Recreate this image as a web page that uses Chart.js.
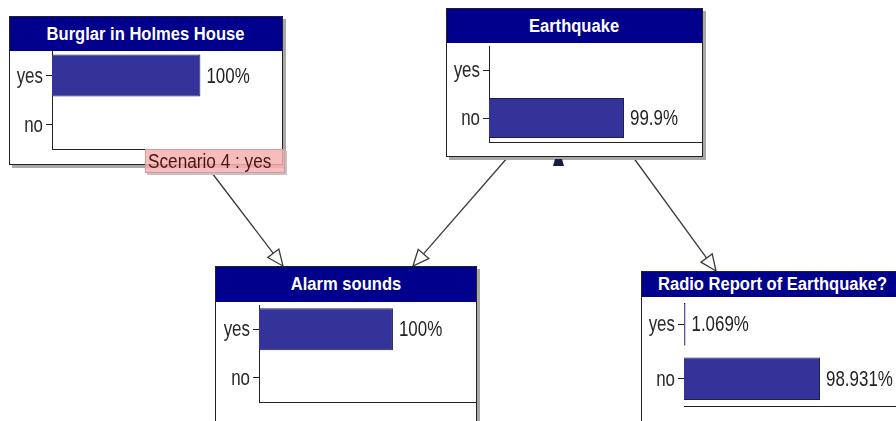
<!DOCTYPE html>
<html>
<head>
<meta charset="utf-8">
<script src="https://cdn.jsdelivr.net/npm/chart.js@4/dist/chart.umd.min.js"></script>
<style>
  html, body { margin: 0; padding: 0; background: #fff; }
  #stage { position: relative; width: 896px; height: 421px; overflow: hidden; }
  #links { position: absolute; left: 0; top: 0; }
  .node {
    position: absolute; box-sizing: border-box; background: #fff;
    border: 1px solid #222; box-shadow: 3px 3px 0 #a8a8a8;
  }
  .head {
    position: absolute; left: 0; right: 0; top: 0; background: #00008c; color: #fff;
    font: bold 18px "Liberation Sans", Arial, sans-serif;
    text-align: center; white-space: nowrap; overflow: visible;
  }
  .head span { display: inline-block; transform: scaleX(0.92); }
  .body { position: absolute; }
  #scenario {
    position: absolute; box-sizing: border-box; background: rgba(246, 178, 178, 0.85);
    border: 1px solid #d59a9a; box-shadow: 2px 2px 0 #c9c0c0; color: #4b1414;
    font: 20px "Liberation Sans", Arial, sans-serif;
    white-space: nowrap;
  }
  #scenario span { display: inline-block; transform: scaleX(0.86); transform-origin: 0 50%; margin-left: 2px; }
  #minimizer { position: absolute; width: 0; height: 0; }
</style>
</head>
<body>
<div id="stage">
  <svg id="links" width="896" height="421"></svg>
</div>
<script>
// node titles and beliefs (percent)
var titles = ["Burglar in Holmes House", "Earthquake", "Alarm sounds", "Radio Report of Earthquake?"];
var states = ["yes", "no"];
var burglar = [100, 0];
var earthquake = [0.1, 99.9];
var alarm = [100, 0];
var radio = [1.069, 98.931];
var scenarioText = "Scenario 4 : yes";

var plotFont = '22px "Liberation Sans", Arial, sans-serif';
var squeeze = 0.77; // the original uses a narrow face

// where each node box sits on the page
var layout = [
  {values: burglar,    boxL: 9,   boxT: 16,  boxR: 283, boxB: 165, headB: 51,  axisX: 52,  plotT: 51,  plotB: 149, bar: 0.86, max: 155,   axisLine: true},
  {values: earthquake, boxL: 446, boxT: 8,   boxR: 703, boxB: 157, headB: 43,  axisX: 489, plotT: 46,  plotB: 142, bar: 0.83, max: 157.6, axisLine: true},
  {values: alarm,      boxL: 215, boxT: 266, boxR: 477, boxB: 440, headB: 302, axisX: 259, plotT: 305, plotB: 402, bar: 0.87, max: 162,   axisLine: true},
  {values: radio,      boxL: 641, boxT: 271, boxR: 905, boxB: 440, headB: 297, axisX: 684, plotT: 297, plotB: 406, bar: 0.78, max: 160,   axisLine: false}
];

// arrows between nodes: [x1, y1, x2, y2]
var links = [
  [212, 173, 283, 266],
  [508, 157, 413, 266],
  [633, 157, 716, 271]
];

function squeezedText(ctx, text, x, y, align) {
  ctx.save();
  ctx.translate(x, y);
  ctx.scale(squeeze, 1);
  ctx.textAlign = align;
  ctx.fillText(text, 0, 0);
  ctx.restore();
}

// state names at the left ticks and percentages after the bars
var nodeText = {
  id: "nodeText",
  afterDatasetsDraw: function(chart) {
    var ctx = chart.ctx;
    var ds = chart.data.datasets[0];
    var meta = chart.getDatasetMeta(0);
    var yScale = chart.scales.y;
    ctx.save();
    ctx.font = plotFont;
    ctx.textBaseline = "middle";
    ctx.fillStyle = "#2a2a2a";
    chart.data.labels.forEach(function(lab, i) {
      squeezedText(ctx, lab, yScale.right - 9, yScale.getPixelForTick(i) + 1, "right");
    });
    ctx.fillStyle = "#222";
    meta.data.forEach(function(bar, i) {
      var v = ds.data[i];
      if (v >= 1) squeezedText(ctx, v + "%", bar.x + 6, bar.y + 1, "left");
    });
    ctx.restore();
  }
};

function drawLinks() {
  var svg = document.getElementById("links");
  var ns = "http://www.w3.org/2000/svg";
  links.forEach(function(l) {
    var dx = l[2] - l[0], dy = l[3] - l[1];
    var len = Math.sqrt(dx * dx + dy * dy);
    var ux = dx / len, uy = dy / len;
    var hl = 16, hw = 7;
    var bx = l[2] - ux * hl, by = l[3] - uy * hl;
    var line = document.createElementNS(ns, "line");
    line.setAttribute("x1", l[0]); line.setAttribute("y1", l[1]);
    line.setAttribute("x2", bx); line.setAttribute("y2", by);
    line.setAttribute("stroke", "#3a3a3a"); line.setAttribute("stroke-width", "1.3");
    svg.appendChild(line);
    var pts = [l[2] + "," + l[3],
      (bx - uy * hw) + "," + (by + ux * hw),
      (bx + uy * hw) + "," + (by - ux * hw)];
    var head = document.createElementNS(ns, "polygon");
    head.setAttribute("points", pts.join(" "));
    head.setAttribute("fill", "#fff"); head.setAttribute("stroke", "#3a3a3a");
    head.setAttribute("stroke-width", "1.3");
    svg.appendChild(head);
  });
}

function makeNode(n, title) {
  var stage = document.getElementById("stage");
  var box = document.createElement("div");
  box.className = "node";
  box.style.left = n.boxL + "px";
  box.style.top = n.boxT + "px";
  box.style.width = (n.boxR - n.boxL) + "px";
  box.style.height = (n.boxB - n.boxT) + "px";
  stage.appendChild(box);

  var headH = n.headB - n.boxT - 1;
  var head = document.createElement("div");
  head.className = "head";
  head.style.height = headH + "px";
  head.style.lineHeight = headH + "px";
  var span = document.createElement("span");
  span.textContent = title;
  head.appendChild(span);
  box.appendChild(head);

  var innerW = n.boxR - n.boxL - 2;
  var bodyH = n.boxB - 1 - n.headB;
  var wrap = document.createElement("div");
  wrap.className = "body";
  wrap.style.left = "0px";
  wrap.style.top = headH + "px";
  wrap.style.width = innerW + "px";
  wrap.style.height = bodyH + "px";
  var canvas = document.createElement("canvas");
  wrap.appendChild(canvas);
  box.appendChild(wrap);

  var yWidth = n.axisX - (n.boxL + 1);
  var xHeight = (n.boxB - 1) - n.plotB;

  new Chart(canvas, {
    type: "bar",
    data: {
      labels: states,
      datasets: [{
        data: n.values,
        backgroundColor: "#333399",
        borderColor: "#1d1d55",
        borderWidth: 1,
        categoryPercentage: 1,
        barPercentage: n.bar
      }]
    },
    options: {
      indexAxis: "y",
      responsive: true,
      maintainAspectRatio: false,
      animation: false,
      events: [],
      layout: {padding: {top: n.plotT - n.headB, left: 0, right: 0, bottom: 0}},
      plugins: {legend: {display: false}, tooltip: {enabled: false}},
      scales: {
        x: {
          min: 0, max: n.max,
          ticks: {display: false},
          grid: {display: false, drawTicks: false},
          border: {display: true, color: "#222", width: 1},
          afterFit: function(s) { s.height = xHeight; }
        },
        y: {
          ticks: {display: false},
          grid: {display: true, drawOnChartArea: false, drawTicks: true, tickLength: 6, offset: false, color: "#222"},
          border: {display: n.axisLine, color: "#222", width: 1},
          afterFit: function(s) { s.width = yWidth; }
        }
      }
    },
    plugins: [nodeText]
  });
  return box;
}

drawLinks();
layout.forEach(function(n, i) { makeNode(n, titles[i]); });

// earthquake node's small collapse marker under the box
var marker = document.createElement("div");
marker.id = "minimizer";
marker.style.left = "553px";
marker.style.top = "159px";
marker.style.borderLeft = "2px solid transparent";
marker.style.borderRight = "2px solid transparent";
marker.style.borderBottom = "7px solid #1a1a4a";
marker.style.width = "7px";
document.getElementById("stage").appendChild(marker);

var sc = document.createElement("div");
sc.id = "scenario";
sc.style.left = "145px";
sc.style.top = "149px";
sc.style.width = "140px";
sc.style.height = "24px";
sc.style.lineHeight = "22px";
var scSpan = document.createElement("span");
scSpan.textContent = scenarioText;
sc.appendChild(scSpan);
document.getElementById("stage").appendChild(sc);
</script>
</body>
</html>
